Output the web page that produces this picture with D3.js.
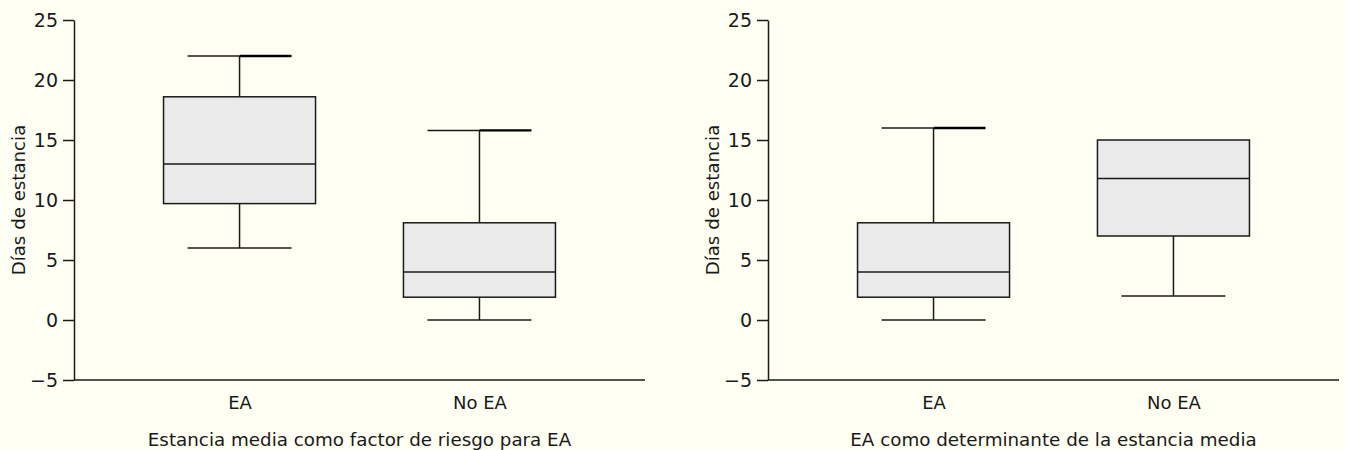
<!DOCTYPE html>
<html>
<head>
<meta charset="utf-8">
<script src="https://cdn.jsdelivr.net/npm/d3@7"></script>
<style>
  html, body { margin: 0; padding: 0; background: #FFFFF3; }
  svg { display: block; }
  text { font-family: "DejaVu Sans", sans-serif; fill: #1a1a1a; }
</style>
</head>
<body>
<svg id="chart" width="1345" height="450"></svg>
<script>
// ---- data ----
const categories = ["EA", "No EA"];
const yTicks = [-5, 0, 5, 10, 15, 20, 25];
const yLabel = "Días de estancia";
const panelTitles = ["Estancia media como factor de riesgo para EA", "EA como determinante de la estancia media"];
// [min, q1, median, q3, max] per category
const panel1Stats = [
  [6, 9.7, 13, 18.6, 22],
  [0, 1.9, 4, 8.1, 15.8]
];
const panel2Stats = [
  [0, 1.9, 4, 8.1, 16],
  [2, 7, 11.8, 15, 15]
];

// ---- layout ----
const FONT = '"DejaVu Sans", sans-serif';
const svg = d3.select("#chart");
const stroke = "#1a1a1a";
const panels = [
  { x0: 74, x1: 645, stats: panel1Stats, title: panelTitles[0], labelX: 18 },
  { x0: 768, x1: 1339, stats: panel2Stats, title: panelTitles[1], labelX: 712 }
];
const y = d3.scaleLinear().domain([-5, 25]).range([380, 20]);
const boxW = 152, capW = 104;

panels.forEach(p => {
  const g = svg.append("g");
  const x = d3.scalePoint().domain(categories).range([p.x0, p.x1]).padding(0.69);

  // y axis
  const ya = g.append("g")
    .attr("transform", `translate(${p.x0},0)`)
    .call(d3.axisLeft(y).tickValues(yTicks).tickSize(11).tickSizeOuter(0).tickPadding(5));
  ya.selectAll("path, line").attr("stroke", stroke).attr("stroke-width", 1.5);
  ya.selectAll("text").style("font-size", "19px").style("font-family", FONT).attr("fill", stroke);

  // x axis
  const xa = g.append("g")
    .attr("transform", `translate(0,${y(-5)})`)
    .call(d3.axisBottom(x).tickSize(0).tickPadding(0));
  xa.select("path").attr("d", `M${p.x0},0H${p.x1}`).attr("stroke", stroke).attr("stroke-width", 1.5);
  xa.selectAll("text").attr("dy", null).attr("y", 29).style("font-size", "18px")
    .style("font-family", FONT).attr("fill", stroke);

  // boxes
  categories.forEach((c, i) => {
    const [mn, q1, md, q3, mx] = p.stats[i];
    const cx = x(c);
    const bg = g.append("g");
    if (mx > q3) {
      bg.append("line").attr("x1", cx).attr("x2", cx).attr("y1", y(q3)).attr("y2", y(mx))
        .attr("stroke", stroke).attr("stroke-width", 1.5);
      bg.append("line").attr("x1", cx - capW / 2).attr("x2", cx).attr("y1", y(mx)).attr("y2", y(mx))
        .attr("stroke", stroke).attr("stroke-width", 1.5);
      bg.append("line").attr("x1", cx).attr("x2", cx + capW / 2).attr("y1", y(mx)).attr("y2", y(mx))
        .attr("stroke", "#000").attr("stroke-width", 2.4);
    }
    if (mn < q1) {
      bg.append("line").attr("x1", cx).attr("x2", cx).attr("y1", y(q1)).attr("y2", y(mn))
        .attr("stroke", stroke).attr("stroke-width", 1.5);
      bg.append("line").attr("x1", cx - capW / 2).attr("x2", cx + capW / 2).attr("y1", y(mn)).attr("y2", y(mn))
        .attr("stroke", stroke).attr("stroke-width", 1.5);
    }
    bg.append("rect").attr("x", cx - boxW / 2).attr("width", boxW)
      .attr("y", y(q3)).attr("height", y(q1) - y(q3))
      .attr("fill", "#EAEAEA").attr("stroke", stroke).attr("stroke-width", 1.5);
    bg.append("line").attr("x1", cx - boxW / 2).attr("x2", cx + boxW / 2).attr("y1", y(md)).attr("y2", y(md))
      .attr("stroke", stroke).attr("stroke-width", 1.5);
  });

  // y label
  g.append("text")
    .attr("transform", `translate(${p.labelX},200) rotate(-90)`)
    .attr("text-anchor", "middle").attr("dominant-baseline", "central")
    .style("font-size", "18.2px").text(yLabel);

  // title
  g.append("text").attr("x", (p.x0 + p.x1) / 2).attr("y", 446).attr("text-anchor", "middle")
    .style("font-size", "18.3px").text(p.title);
});
</script>
</body>
</html>
